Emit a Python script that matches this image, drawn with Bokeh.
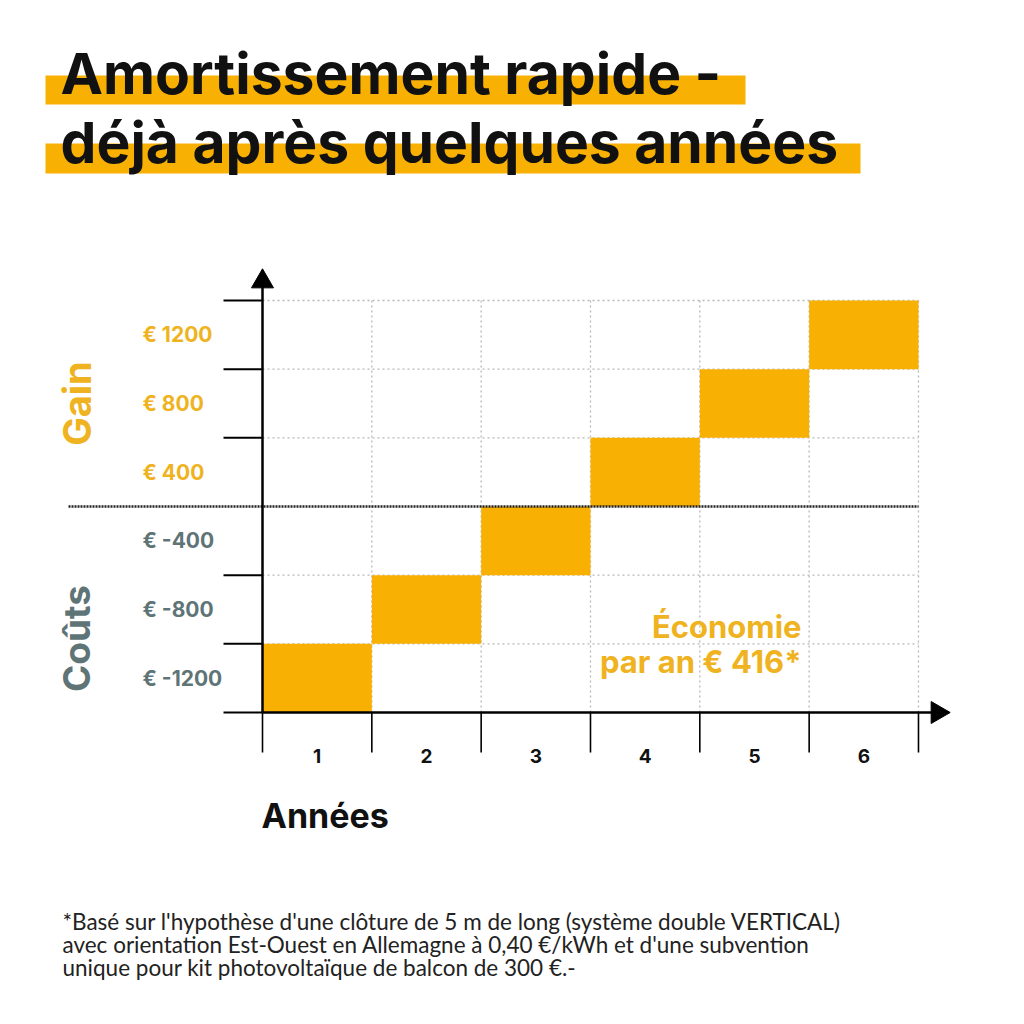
import numpy as np
from bokeh.plotting import figure
from bokeh.models import Range1d
from bokeh.core.properties import value
from bokeh.embed import file_html
from bokeh.resources import INLINE

# ---- data ----
years = [1, 2, 3, 4, 5, 6]
year_labels = ["1", "2", "3", "4", "5", "6"]
balance = [-1200, -800, -400, 400, 800, 1200]
band_values = [1200, 800, 400, -400, -800, -1200]
band_labels = ["€ 1200", "€ 800", "€ 400", "€ -400", "€ -800", "€ -1200"]
band_step = 400

title_lines = ["Amortissement rapide -", "déjà après quelques années"]
footnote_lines = [
    "*Basé sur l'hypothèse d'une clôture de 5 m de long (système double VERTICAL)",
    "avec orientation Est-Ouest en Allemagne à 0,40 €/kWh et d'une subvention",
    "unique pour kit photovoltaïque de balcon de 300 €.-",
]
saving_text = ["Économie", "par an € 416*"]

ORANGE = "#F8B003"
ORANGE_TXT = "#EFB321"
GREY_TXT = "#5F7476"
FONT = "Inter"

# ---- scale (page px <-> data) ----
X0, XS = 262.0, 109.33          # x=0 at page px 262, one year = 109.33 px
Y0, YS = 506.0, 68.67 / 400.0   # y=0 at page px 506
W = H = 1008
OFF = 0


def X(px):
    return (px - X0) / XS


def Y(py):
    return (Y0 - py) / YS


p = figure(width=W, height=H, output_backend="svg", toolbar_location=None,
           x_range=Range1d(X(OFF), X(OFF + W)), y_range=Range1d(Y(OFF + H), Y(OFF)),
           min_border=0)
p.axis.visible = False
p.grid.visible = False
p.outline_line_color = None
p.background_fill_color = "white"

# ---- title highlight bars ----
p.quad(left=[X(45), X(45)], right=[X(745), X(860)],
       top=[Y(75), Y(143)], bottom=[Y(104), Y(173)],
       fill_color=ORANGE, line_color=None)
p.text(x=[X(60), X(60)], y=[Y(73), Y(142)], text=title_lines,
       text_font=value(FONT), text_font_style="bold", text_font_size="57px",
       text_color="#111111", text_baseline="middle", text_align="left")

ymax = max(band_values)
ymin = min(band_values)
ncol = len(years)

# ---- grid (dotted) ----
grid_y = [ymax] + [v - band_step for v in band_values if v > band_step] + \
         [v + band_step for v in band_values if v < -band_step]
p.segment(x0=[0] * len(grid_y), x1=[ncol] * len(grid_y), y0=grid_y, y1=grid_y,
          line_color="#b8b8b8", line_width=1.3, line_dash="2 3")
p.segment(x0=years, x1=years, y0=[ymin] * ncol, y1=[ymax] * ncol,
          line_color="#b8b8b8", line_width=1.3, line_dash="2 3")

# ---- cells ----
tops = [v if v > 0 else v + band_step for v in balance]
bottoms = [v - band_step if v > 0 else v for v in balance]
p.quad(left=[y - 1 for y in years], right=years, top=tops, bottom=bottoms,
       fill_color=ORANGE, line_color=None)

# ---- zero line ----
p.segment(x0=[X(68)], x1=[ncol], y0=[0], y1=[0],
          line_color="#222222", line_width=2.5, line_dash="2 1")

# ---- axes ----
p.segment(x0=[0], x1=[0], y0=[ymin], y1=[Y(285)], line_color="black", line_width=2.5)
p.segment(x0=[0], x1=[X(935)], y0=[ymin], y1=[ymin], line_color="black", line_width=2.5)
p.scatter(x=[0], y=[Y(281)], marker="triangle", size=22, fill_color="black",
          line_color="black")
p.scatter(x=[X(937)], y=[ymin], marker="triangle", size=22, angle=-np.pi / 2,
          fill_color="black", line_color="black")

# left ticks
tick_y = [v for v in grid_y] + [ymin]
p.segment(x0=[X(223)] * len(tick_y), x1=[0] * len(tick_y), y0=tick_y, y1=tick_y,
          line_color="black", line_width=2)
# bottom ticks
xt = [0] + years
p.segment(x0=xt, x1=xt, y0=[ymin] * len(xt), y1=[Y(752)] * len(xt),
          line_color="black", line_width=1.6)

# ---- labels ----
centers = [v - band_step / 2 if v > 0 else v + band_step / 2 for v in band_values]
colors = [ORANGE_TXT if v > 0 else GREY_TXT for v in band_values]
p.text(x=[X(142)] * len(centers), y=centers, text=band_labels,
       text_color=colors, text_font=value(FONT), text_font_style="bold",
       text_font_size="21px", text_baseline="middle", text_align="left")

p.text(x=[y - 0.5 for y in years], y=[Y(755)] * ncol, text=year_labels,
       text_font=value(FONT), text_font_style="bold", text_font_size="19px",
       text_color="#111111", text_baseline="middle", text_align="center")

p.text(x=[X(76)], y=[Y(403)], text=["Gain"], angle=np.pi / 2,
       text_font=value(FONT), text_font_style="bold", text_font_size="38px",
       text_color=ORANGE_TXT, text_baseline="middle", text_align="center")
p.text(x=[X(76)], y=[Y(638)], text=["Coûts"], angle=np.pi / 2,
       text_font=value(FONT), text_font_style="bold", text_font_size="37px",
       text_color=GREY_TXT, text_baseline="middle", text_align="center")

p.text(x=[X(261)], y=[Y(815)], text=["Années"],
       text_font=value(FONT), text_font_style="bold", text_font_size="34px",
       text_color="#111111", text_baseline="middle", text_align="left")

p.text(x=[X(801), X(801)], y=[Y(626), Y(661)], text=saving_text,
       text_font=value(FONT), text_font_style="bold", text_font_size="31px",
       text_color=ORANGE_TXT, text_baseline="middle", text_align="right")

p.text(x=[X(62)] * 3, y=[Y(921), Y(944), Y(967)], text=footnote_lines,
       text_font=value("Lato"), text_font_size="22.5px",
       text_color="#222222", text_baseline="middle", text_align="left")

open("out.html", "w").write(file_html(p, INLINE))
